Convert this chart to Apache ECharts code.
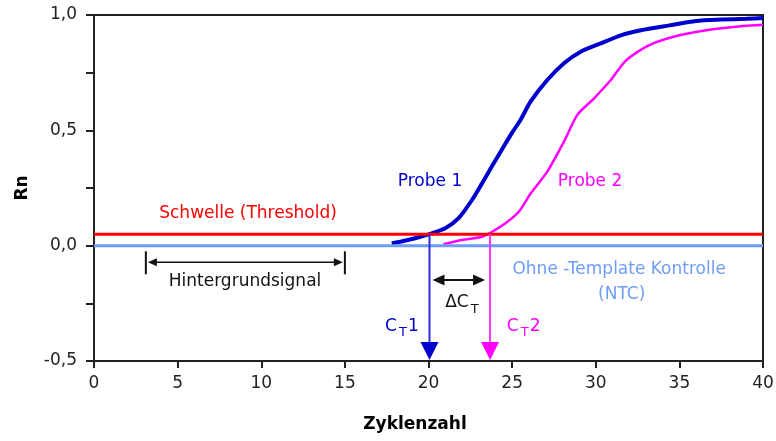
<!DOCTYPE html>
<html>
<head>
<meta charset="utf-8">
<script src="https://cdn.jsdelivr.net/npm/echarts@6/dist/echarts.min.js"></script>
<style>
  html, body { margin: 0; padding: 0; background: #fff; }
  #chart { width: 776px; height: 441px; }
</style>
</head>
<body>
<div id="chart"></div>
<script>
// Amplification curves: cycle number and normalised reporter signal (Rn)
const probe1Cycles = [17.8, 18.5, 19.2, 20.1, 21.0, 21.8, 22.6, 23.2, 23.8, 24.4, 25.0, 25.5, 26.1, 27.1, 28.1, 29.1, 30.3, 31.5, 32.7, 34.4, 36.0, 37.5, 39.0, 40.0];
const probe1Rn     = [0.010, 0.020, 0.032, 0.051, 0.075, 0.119, 0.198, 0.270, 0.345, 0.418, 0.490, 0.545, 0.624, 0.718, 0.791, 0.841, 0.877, 0.912, 0.934, 0.955, 0.974, 0.980, 0.984, 0.987];
const probe2Cycles = [20.9, 22.0, 23.2, 23.7, 24.6, 25.4, 26.1, 27.1, 28.1, 28.9, 29.9, 30.9, 31.7, 32.5, 33.4, 35.0, 36.6, 38.8, 40.0];
const probe2Rn     = [0.007, 0.025, 0.039, 0.056, 0.097, 0.147, 0.225, 0.321, 0.451, 0.567, 0.639, 0.718, 0.795, 0.840, 0.876, 0.912, 0.934, 0.952, 0.958];

// Reference levels
const thresholdRn = 0.05;
const ntcRn = 0.0;
const cycleRange = [0, 40];

// Threshold cycles of both samples and the baseline window
const ct1 = 20.06;
const ct2 = 23.68;
const backgroundCycles = [3.1, 15.0];

// Axis ticks
const xTickStep = 5;
const yTickStep = 0.25;
const yTickLabels = { '-0.5': '-0,5', '0.0': '0,0', '0.5': '0,5', '1.0': '1,0' };

const FONT = '"DejaVu Sans", Verdana, sans-serif';

const zip = (xs, ys) => xs.map((x, i) => [x, ys[i]]);

function arrowHead(tip, dir, len, half) {
  // dir = +1 points right, -1 points left
  return [[tip[0], tip[1]], [tip[0] - dir * len, tip[1] - half], [tip[0] - dir * len, tip[1] + half]];
}

function renderAnnotations(params, api) {
  const p = (x, y) => api.coord([x, y]);
  const kids = [];
  const txt = (x, y, text, color, size, align) => ({
    type: 'text', x: x, y: y,
    style: { text: text, fill: color, font: size + 'px ' + FONT, align: align || 'center', verticalAlign: 'middle' }
  });

  // Baseline window (Hintergrundsignal)
  const bL = p(backgroundCycles[0], -0.072), bR = p(backgroundCycles[1], -0.072);
  [bL, bR].forEach(pt => kids.push({ type: 'line', shape: { x1: pt[0], y1: pt[1] - 11, x2: pt[0], y2: pt[1] + 12 }, style: { stroke: '#111', lineWidth: 2 } }));
  kids.push({ type: 'line', shape: { x1: bL[0] + 6, y1: bL[1], x2: bR[0] - 6, y2: bR[1] }, style: { stroke: '#111', lineWidth: 1.5 } });
  kids.push({ type: 'polygon', shape: { points: arrowHead([bL[0] + 2, bL[1]], -1, 9, 4) }, style: { fill: '#111' } });
  kids.push({ type: 'polygon', shape: { points: arrowHead([bR[0] - 2, bR[1]], 1, 9, 4) }, style: { fill: '#111' } });

  // CT arrows dropping from the threshold crossing to the cycle axis
  [[ct1, '#2a2ad8', '#0000cc'], [ct2, '#ff33ff', '#ff00ff']].forEach(([ct, lineColor, headColor]) => {
    const top = p(ct, thresholdRn), bot = p(ct, -0.5);
    kids.push({ type: 'line', shape: { x1: top[0], y1: top[1], x2: bot[0], y2: bot[1] - 16 }, style: { stroke: lineColor, lineWidth: 2 } });
    kids.push({ type: 'polygon', shape: { points: [[bot[0] - 9, bot[1] - 19], [bot[0] + 9, bot[1] - 19], [bot[0], bot[1] - 1]] }, style: { fill: headColor } });
  });

  // Delta CT double arrow
  const dL = p(ct1, -0.149), dR = p(ct2, -0.149);
  kids.push({ type: 'line', shape: { x1: dL[0] + 10, y1: dL[1], x2: dR[0] - 12, y2: dR[1] }, style: { stroke: '#111', lineWidth: 2 } });
  kids.push({ type: 'polygon', shape: { points: arrowHead([dL[0] + 3, dL[1]], -1, 12, 5.5) }, style: { fill: '#111' } });
  kids.push({ type: 'polygon', shape: { points: arrowHead([dR[0] - 5, dR[1]], 1, 12, 5.5) }, style: { fill: '#111' } });

  // Text labels
  let a = p(9.21, 0.137);
  kids.push(txt(a[0], a[1], 'Schwelle (Threshold)', '#ff0000', 17));
  a = p(20.09, 0.276);
  kids.push(txt(a[0], a[1], 'Probe 1', '#0000cc', 17));
  a = p(29.66, 0.276);
  kids.push(txt(a[0], a[1], 'Probe 2', '#ff00ff', 17));
  a = p(9.03, -0.157);
  kids.push(txt(a[0], a[1], 'Hintergrundsignal', '#111', 17));
  a = p(31.4, -0.105);
  kids.push(txt(a[0], a[1], 'Ohne -Template Kontrolle', '#6f9cf5', 17));
  a = p(31.55, -0.21);
  kids.push(txt(a[0], a[1], '(NTC)', '#6f9cf5', 17));

  // ΔC_T
  a = p(22.4, -0.245);
  kids.push(txt(a[0], a[1], 'ΔC', '#111', 17, 'right'));
  kids.push(txt(a[0] + 2, a[1] + 7, 'T', '#111', 13, 'left'));

  // C_T1 and C_T2
  [[ct1 - 2.66, '1', '#0000cc'], [ct2 + 1.0, '2', '#ff00ff']].forEach(([cx, n, color]) => {
    const q = p(cx, -0.352);
    kids.push(txt(q[0], q[1], 'C', color, 17, 'left'));
    kids.push(txt(q[0] + 14, q[1] + 6, 'T', color, 13, 'left'));
    kids.push(txt(q[0] + 23, q[1], n, color, 17, 'left'));
  });

  return { type: 'group', children: kids };
}

const chart = echarts.init(document.getElementById('chart'), null, { renderer: 'canvas' });

chart.setOption({
  animation: false,
  backgroundColor: '#fff',
  grid: {
    left: 94, right: 13, top: 15, bottom: 80,
    show: true, borderColor: '#222', borderWidth: 2, backgroundColor: 'transparent',
    outerBoundsMode: 'none'
  },
  xAxis: {
    type: 'value', min: cycleRange[0], max: cycleRange[1], interval: xTickStep,
    name: 'Zyklenzahl', nameLocation: 'middle', nameGap: 55,
    nameTextStyle: { fontFamily: FONT, fontSize: 17, fontWeight: 'bold', color: '#000', padding: [0, 27, 0, 0] },
    axisLine: { show: true, onZero: false, lineStyle: { color: '#222', width: 2 } },
    axisTick: { show: true, length: 7, lineStyle: { color: '#222', width: 2 } },
    axisLabel: { fontFamily: FONT, fontSize: 17, color: '#222', margin: 14 },
    splitLine: { show: false }
  },
  yAxis: {
    type: 'value', min: -0.5, max: 1.0, interval: yTickStep,
    name: 'Rn', nameLocation: 'middle', nameGap: 63, nameRotate: 90,
    nameTextStyle: { fontFamily: FONT, fontSize: 17, fontWeight: 'bold', color: '#000' },
    axisLine: { show: true, onZero: false, lineStyle: { color: '#222', width: 2 } },
    axisTick: { show: true, length: 8, lineStyle: { color: '#222', width: 2 } },
    axisLabel: {
      fontFamily: FONT, fontSize: 17, color: '#222', margin: 17,
      formatter: v => yTickLabels[v.toFixed(1)] && Math.abs(v * 2 - Math.round(v * 2)) < 1e-9 ? yTickLabels[v.toFixed(1)] : ''
    },
    splitLine: { show: false }
  },
  series: [
    {
      name: 'Probe 1', type: 'line', data: zip(probe1Cycles, probe1Rn),
      showSymbol: false, smooth: 0.25, z: 2,
      lineStyle: { color: '#0000cc', width: 4 }
    },
    {
      name: 'Probe 2', type: 'line', data: zip(probe2Cycles, probe2Rn),
      showSymbol: false, smooth: 0.25, z: 2,
      lineStyle: { color: '#ff00ff', width: 2.5 }
    },
    {
      name: 'NTC', type: 'line', data: [[cycleRange[0], ntcRn], [cycleRange[1], ntcRn]],
      showSymbol: false, z: 3,
      lineStyle: { color: '#6d9bf7', width: 3 }
    },
    {
      name: 'Schwelle', type: 'line', data: [[cycleRange[0], thresholdRn], [cycleRange[1], thresholdRn]],
      showSymbol: false, z: 4,
      lineStyle: { color: '#ff0000', width: 3 }
    },
    {
      name: 'Annotationen', type: 'custom', coordinateSystem: 'cartesian2d',
      data: [[0, 0]], renderItem: renderAnnotations, clip: false, silent: true, z: 5
    }
  ]
});
</script>
</body>
</html>
